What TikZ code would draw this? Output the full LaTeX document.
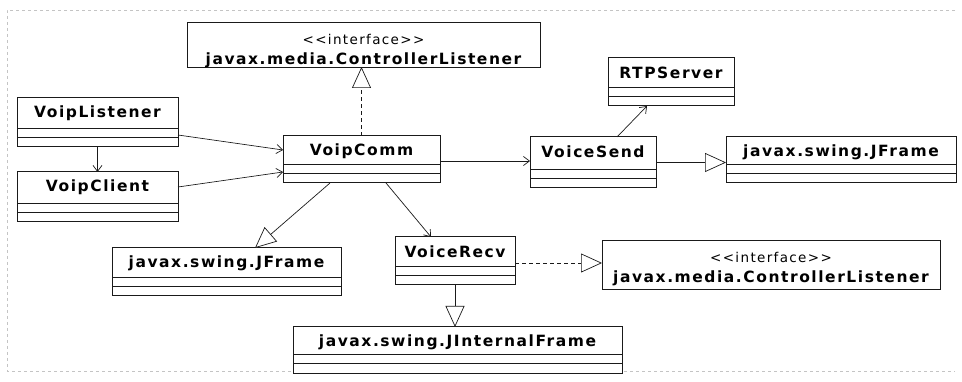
\documentclass[tikz,border=0pt]{standalone}
\usepackage{fontspec}
\usepackage{tikz}
\usetikzlibrary{arrows.meta}
\newfontfamily\umlfont{DejaVu Sans}[LetterSpace=10]
\definecolor{linecol}{HTML}{1a1a1a}
\definecolor{framecol}{HTML}{c4c4c4}
\tikzset{
  classbox/.style={draw=linecol, line width=1pt, inner sep=0pt, outer sep=0pt, fill=white},
  classname/.style={font=\umlfont\fontsize{15.5}{18}\selectfont\bfseries, text=black, inner sep=0pt},
  stereo/.style={font=\umlfont\fontsize{13.5}{16}\selectfont, text=black, inner sep=0pt},
  compline/.style={linecol, line width=0.9pt},
  assoc/.style={linecol, line width=0.7pt, -{Straight Barb[length=6pt, width=9pt]}},
  inherit/.style={linecol, line width=0.7pt, -{Triangle[open, length=21pt, width=19pt, fill=white]}},
  realize/.style={inherit, dash pattern=on 4pt off 3pt},
}
\begin{document}
\begin{tikzpicture}[x=1pt, y=-1pt]
    \useasboundingbox (0,0) rectangle (962,382);
    % faint frame of the scan
    \draw[framecol, dashed, line width=0.6pt] (955,10) -- (7,10) -- (7,371) -- (955,371);
    \newcommand{\umlclass}[6]{%
      \pgfmathsetmacro{\bw}{#4-#2}%
      \pgfmathsetmacro{\bh}{#5-#3}%
      \node[classbox, minimum width=\bw pt, minimum height=\bh pt, anchor=north west] (#1) at (#2,#3) {};%
      \node[classname] (#1-name) at ([yshift=-15pt]#1.north) {#6};%
      \draw[compline] ([yshift=19pt]#1.south west) -- ([yshift=19pt]#1.south east);%
      \draw[compline] ([yshift=10pt]#1.south west) -- ([yshift=10pt]#1.south east);%
    }
    \newcommand{\umliface}[6]{%
      \pgfmathsetmacro{\bw}{#4-#2}%
      \pgfmathsetmacro{\bh}{#5-#3}%
      \node[classbox, line width=0.8pt, minimum width=\bw pt, minimum height=\bh pt, anchor=north west] (#1) at (#2,#3) {};%
      \node[stereo] (#1-stereo) at ([yshift=-17pt]#1.north) {\textless\textless interface\textgreater\textgreater};%
      \node[classname] (#1-name) at ([yshift=-38pt]#1.north) {#6};%
    }
    % classes
    \umliface{ctrlA}{187}{22}{540}{67}{javax.media.ControllerListener}
    \umlclass{voiplistener}{17}{98}{178}{147}{VoipListener}
    \umlclass{voipclient}{17}{172}{178}{222}{VoipClient}
    \umlclass{voipcomm}{283}{136}{440}{183}{VoipComm}
    \umlclass{rtpserver}{608}{58}{734}{106}{RTPServer}
    \umlclass{voicesend}{530}{137}{656}{188}{VoiceSend}
    \umlclass{jframeA}{726}{137}{956}{183}{javax.swing.JFrame}
    \umlclass{jframeB}{112}{248}{341}{296}{javax.swing.JFrame}
    \umlclass{voicerecv}{395}{237}{515}{285}{VoiceRecv}
    \umliface{ctrlB}{602}{240}{940}{289}{javax.media.ControllerListener}
    \umlclass{jinternal}{293}{327}{622}{373}{javax.swing.JInternalFrame}
    % associations
    \draw[assoc] (voiplistener) -- (voipclient);
    \draw[assoc] ([yshift=-12.5pt]voiplistener.east) -- ([yshift=9.5pt]voipcomm.west);
    \draw[assoc] ([yshift=10pt]voipclient.east) -- ([yshift=-12.5pt]voipcomm.west);
    \draw[assoc] ([yshift=-1.5pt]voipcomm.east) -- ([yshift=1.5pt]voicesend.west);
    \draw[assoc] ([xshift=24pt]voicesend.north) -- ([xshift=-24pt]rtpserver.south);
    \draw[assoc] ([xshift=24.5pt]voipcomm.south) -- ([xshift=-24pt]voicerecv.north);
    % generalizations
    \draw[inherit] (voicesend.east) -- (voicesend.east -| jframeA.west);
    \draw[inherit] ([xshift=-31.5pt]voipcomm.south) -- ([xshift=28.5pt]jframeB.north);
    \draw[inherit] (voicerecv.south) -- (voicerecv.south |- jinternal.north);
    % realizations
    \draw[realize] (voipcomm.north) -- (voipcomm.north |- ctrlA.south);
    \draw[realize] ([yshift=-2pt]voicerecv.east) -- ([yshift=-2pt]voicerecv.east -| ctrlB.west);
\end{tikzpicture}
\end{document}
